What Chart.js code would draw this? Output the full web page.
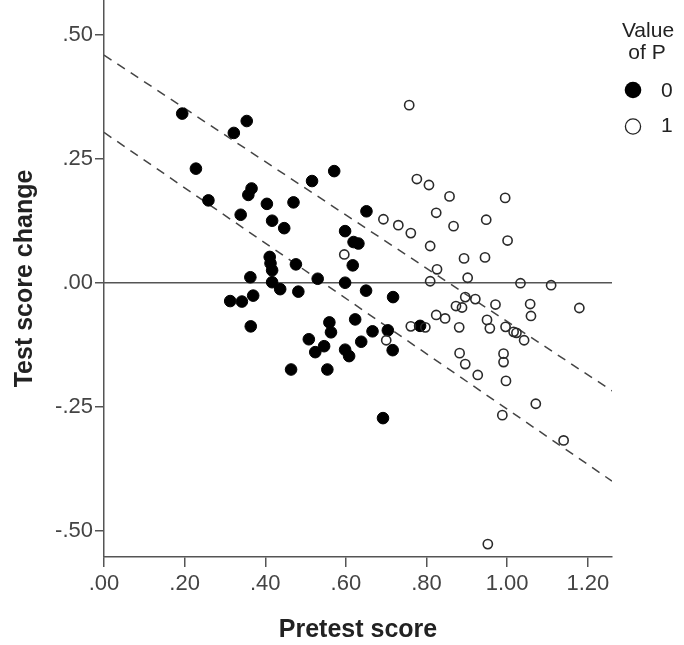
<!DOCTYPE html>
<html>
<head>
<meta charset="utf-8">
<script src="https://cdn.jsdelivr.net/npm/chart.js@4/dist/chart.umd.min.js"></script>
<style>
  html, body { margin: 0; padding: 0; background: #fff; }
  canvas { display: block; }
</style>
</head>
<body>
<canvas id="chart" width="684" height="645"></canvas>
<script>
// P = 0 (filled) : [pretest, change]
const groupZero = [
  [0.194, 0.341], [0.228, 0.230], [0.259, 0.166], [0.322, 0.302], [0.354, 0.326],
  [0.366, 0.190], [0.358, 0.177], [0.339, 0.137], [0.404, 0.159], [0.470, 0.162],
  [0.417, 0.125], [0.447, 0.110], [0.516, 0.205], [0.571, 0.225], [0.651, 0.144],
  [0.598, 0.104], [0.619, 0.082], [0.631, 0.079], [0.617, 0.035], [0.411, 0.052],
  [0.413, 0.039], [0.417, 0.025], [0.476, 0.037], [0.363, 0.011], [0.417, 0.001],
  [0.437, -0.013], [0.482, -0.018], [0.530, 0.008], [0.598, 0.000], [0.650, -0.016],
  [0.717, -0.029], [0.370, -0.026], [0.313, -0.037], [0.342, -0.038], [0.364, -0.088],
  [0.559, -0.080], [0.563, -0.100], [0.623, -0.074], [0.508, -0.114], [0.546, -0.128],
  [0.524, -0.140], [0.598, -0.135], [0.608, -0.148], [0.638, -0.119], [0.666, -0.098],
  [0.704, -0.096], [0.716, -0.136], [0.784, -0.087], [0.464, -0.175], [0.554, -0.175],
  [0.692, -0.273]
];

// P = 1 (open)
const groupOne = [
  [0.757, 0.358], [0.776, 0.209], [0.806, 0.197], [0.857, 0.174], [0.995, 0.171],
  [0.824, 0.141], [0.948, 0.127], [0.693, 0.128], [0.730, 0.116], [0.867, 0.114],
  [0.761, 0.100], [1.001, 0.085], [0.809, 0.074], [0.893, 0.049], [0.945, 0.051],
  [0.596, 0.057], [0.826, 0.027], [0.902, 0.010], [0.809, 0.003], [1.033, -0.001],
  [1.109, -0.005], [0.896, -0.029], [0.921, -0.033], [0.873, -0.047], [0.888, -0.050],
  [0.971, -0.044], [1.057, -0.043], [1.059, -0.067], [1.179, -0.051], [0.846, -0.072],
  [0.824, -0.065], [0.881, -0.090], [0.950, -0.075], [0.957, -0.092], [0.996, -0.089],
  [1.016, -0.099], [1.023, -0.101], [1.042, -0.116], [0.761, -0.088], [0.797, -0.090],
  [0.700, -0.116], [0.882, -0.142], [0.896, -0.164], [0.927, -0.186], [0.991, -0.143],
  [0.991, -0.160], [0.997, -0.198], [1.071, -0.244], [0.988, -0.267], [1.140, -0.318],
  [0.952, -0.527]
];

// reference lines: x ends and y values
const lineX = [0, 1.26];
const upperBand = [0.459, -0.218];
const lowerBand = [0.303, -0.400];
const zeroLine = [0, 0];

const xTicks = [0, 0.2, 0.4, 0.6, 0.8, 1.0, 1.2];
const yTicks = [-0.5, -0.25, 0, 0.25, 0.5];
const legendLabels = ['0', '1'];

const FONT = '"Liberation Sans", Arial, sans-serif';
const toPts = arr => arr.map(p => ({ x: p[0], y: p[1] }));
const toLine = ys => lineX.map((x, i) => ({ x, y: ys[i] }));
const fmt = v => v.toFixed(2).replace(/^(-?)0\./, '$1.');

const legendPlugin = {
  id: 'spssLegend',
  afterDraw(chart) {
    const ctx = chart.ctx;
    ctx.save();
    ctx.fillStyle = '#222';
    ctx.font = '21px ' + FONT;
    ctx.textAlign = 'center';
    ctx.textBaseline = 'alphabetic';
    ctx.fillText('Value', 648, 37);
    ctx.fillText('of P', 647, 59);
    ctx.textAlign = 'left';
    ctx.textBaseline = 'middle';
    // filled marker
    ctx.beginPath();
    ctx.arc(633, 90, 8.3, 0, Math.PI * 2);
    ctx.fillStyle = '#000';
    ctx.fill();
    ctx.fillStyle = '#222';
    ctx.fillText(legendLabels[0], 661, 91);
    // open marker
    ctx.beginPath();
    ctx.arc(633, 126.5, 7.6, 0, Math.PI * 2);
    ctx.lineWidth = 1.3;
    ctx.strokeStyle = '#222';
    ctx.stroke();
    ctx.fillText(legendLabels[1], 661, 126);
    ctx.restore();
  }
};

new Chart(document.getElementById('chart'), {
  type: 'scatter',
  data: {
    datasets: [
      {
        label: '0', data: toPts(groupZero), order: 1,
        pointRadius: 5.8, pointHoverRadius: 5.8,
        backgroundColor: '#000', borderColor: '#000', borderWidth: 1
      },
      {
        label: '1', data: toPts(groupOne), order: 0,
        pointRadius: 4.6, pointHoverRadius: 4.6,
        backgroundColor: 'rgba(0,0,0,0)', borderColor: '#2a2a2a', borderWidth: 1.6
      },
      {
        type: 'line', label: 'zero', data: toLine(zeroLine), order: 3,
        borderColor: '#555', borderWidth: 1.6, pointRadius: 0, fill: false
      },
      {
        type: 'line', label: 'upper', data: toLine(upperBand), order: 2,
        borderColor: '#444', borderWidth: 1.5, borderDash: [9, 7], pointRadius: 0, fill: false
      },
      {
        type: 'line', label: 'lower', data: toLine(lowerBand), order: 2,
        borderColor: '#444', borderWidth: 1.5, borderDash: [9, 7], pointRadius: 0, fill: false
      }
    ]
  },
  options: {
    responsive: false,
    devicePixelRatio: 1,
    animation: false,
    layout: { autoPadding: false, padding: { left: 0, right: 72, top: 0, bottom: 0 } },
    plugins: {
      legend: { display: false },
      tooltip: { enabled: false }
    },
    scales: {
      x: {
        type: 'linear',
        min: 0, max: 1.26,
        afterBuildTicks: axis => { axis.ticks = xTicks.map(v => ({ value: v })); },
        afterFit: axis => {
          axis.height = 88;
          axis.paddingLeft = 0; axis.paddingRight = 0;
        },
        ticks: {
          callback: v => fmt(v),
          color: '#444',
          font: { family: FONT, size: 22 },
          padding: 4,
          maxRotation: 0, autoSkip: false
        },
        grid: { drawOnChartArea: false, drawTicks: true, tickLength: 10, color: '#555', lineWidth: 1.5 },
        border: { display: true, color: '#555', width: 1.5 },
        title: {
          display: true, text: 'Pretest score', color: '#222',
          font: { family: FONT, size: 25, weight: 'bold' },
          padding: { top: 0, bottom: 0 }
        }
      },
      y: {
        type: 'linear',
        min: -0.553, max: 0.57,
        afterBuildTicks: axis => { axis.ticks = yTicks.map(v => ({ value: v })); },
        afterFit: axis => {
          axis.width = 104;
          axis.paddingTop = 0; axis.paddingBottom = 0;
        },
        ticks: {
          callback: v => fmt(v),
          color: '#444',
          font: { family: FONT, size: 22 },
          padding: 2
        },
        grid: { drawOnChartArea: false, drawTicks: true, tickLength: 9, color: '#555', lineWidth: 1.5 },
        border: { display: true, color: '#555', width: 1.5 },
        title: {
          display: true, text: 'Test score change', color: '#222',
          font: { family: FONT, size: 25, weight: 'bold' },
          padding: { top: 10, bottom: 0 }
        }
      }
    }
  },
  plugins: [legendPlugin]
});
</script>
</body>
</html>
